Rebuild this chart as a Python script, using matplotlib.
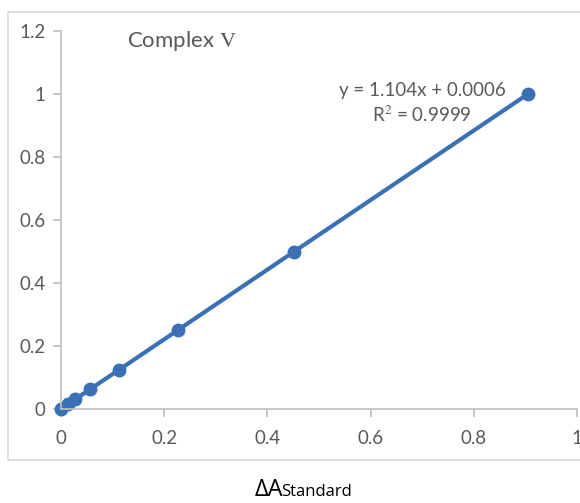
import matplotlib
matplotlib.use("Agg")
import matplotlib.pyplot as plt
from matplotlib.patches import Rectangle

# standard curve data (delta A vs. concentration)
delta_a = [0, 0.014, 0.028, 0.056, 0.113, 0.226, 0.452, 0.905]
conc = [0, 0.0156, 0.03125, 0.0625, 0.125, 0.25, 0.5, 1.0]
x_ticks = [0, 0.2, 0.4, 0.6, 0.8, 1]
x_labels = ["0", "0.2", "0.4", "0.6", "0.8", "1"]
y_ticks = [0, 0.2, 0.4, 0.6, 0.8, 1, 1.2]
y_labels = ["0", "0.2", "0.4", "0.6", "0.8", "1", "1.2"]

plt.rcParams['font.family'] = ['Lato', 'DejaVu Sans']
plt.rcParams['mathtext.fontset'] = 'stix'

blue = '#3A70B5'
grey = '#595959'
axis_col = '#BFBFBF'

fig = plt.figure(figsize=(5.8, 5.03), dpi=100)

# outer chart frame like Excel
fig.patches.append(Rectangle((8 / 580, 1 - 460 / 503), 1.1, 448 / 503,
                             transform=fig.transFigure, fill=False,
                             edgecolor='#D9D9D9', linewidth=1.2))

ax = fig.add_axes([61 / 580, 1 - 409 / 503, 516 / 580, 378 / 503])
ax.plot(delta_a, conc, '-o', color=blue, linewidth=3, markersize=9, clip_on=False)
ax.set_xlim(0, 1)
ax.set_ylim(0, 1.2)
ax.set_xticks(x_ticks)
ax.set_xticklabels(x_labels)
ax.set_yticks(y_ticks)
ax.set_yticklabels(y_labels)
for s in ['top', 'right']:
    ax.spines[s].set_visible(False)
for s in ['left', 'bottom']:
    ax.spines[s].set_color(axis_col)
    ax.spines[s].set_linewidth(1.2)
ax.tick_params(colors=axis_col, labelcolor=grey, labelsize=13.5, length=6, width=1.2)
ax.tick_params(axis='x', pad=9)
ax.tick_params(axis='y', pad=5)

ax.text(0.235, 1.168, r'Complex $\mathrm{V}$', fontsize=16, color=grey,
        ha='center', va='center')
ax.text(0.70, 0.97, 'y = 1.104x + 0.0006\nR$^2$ = 0.9999', fontsize=13.5,
        color=grey, ha='center', va='center', linespacing=1.35)

# x-axis caption below the frame
t1 = fig.text(255 / 580, 1 - 496 / 503, 'ΔA', fontsize=17, family='Open Sans',
              ha='left', va='baseline')
fig.canvas.draw()
bb = t1.get_window_extent()
fig.text((bb.x1 - 2) / 580, 1 - 496 / 503, 'Standard', fontsize=12,
         family='Open Sans', ha='left', va='baseline')

fig.savefig('out.png', dpi=100)
